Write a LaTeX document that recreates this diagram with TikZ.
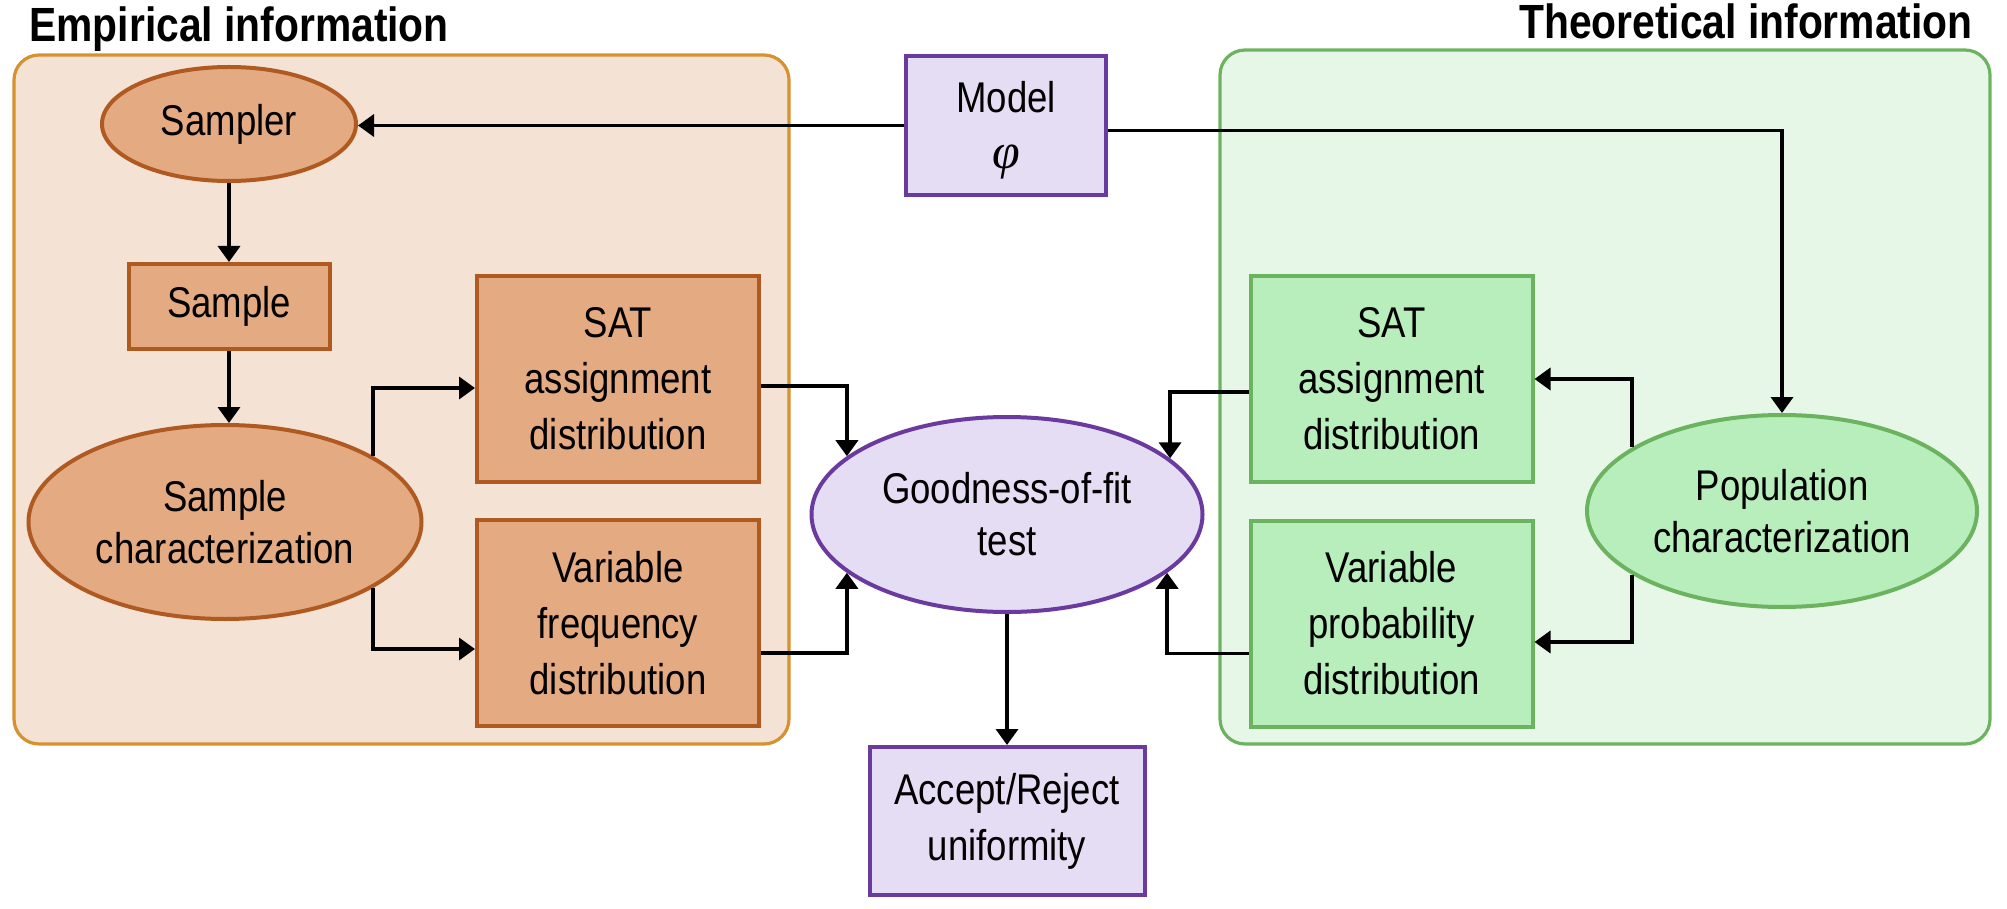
\documentclass[tikz,border=0pt]{standalone}
\usepackage{fontspec}
\setmainfont{Liberation Sans}[FakeStretch=0.85]
\newfontfamily\phifont{Liberation Serif}
\usetikzlibrary{arrows.meta,shapes.geometric}
\definecolor{empF}{HTML}{F4E2D4}
\definecolor{empB}{HTML}{D6922F}
\definecolor{enF}{HTML}{E4AA82}
\definecolor{enB}{HTML}{B05A22}
\definecolor{theF}{HTML}{E6F7E8}
\definecolor{theB}{HTML}{6BB35E}
\definecolor{gnF}{HTML}{B8EEBB}
\definecolor{pnF}{HTML}{E5DDF3}
\definecolor{pnB}{HTML}{6A3A9F}
\begin{document}
\begin{tikzpicture}[x=0.5pt,y=-0.5pt,
  base/.style={align=center, inner sep=0pt, line width=2pt,
    font=\fontsize{21.5pt}{28pt}\selectfont},
  rbox/.style={base, rectangle},
  rell/.style={base, ellipse, font=\fontsize{21.5pt}{26pt}\selectfont},
  emp/.style={draw=enB, fill=enF},
  theo/.style={draw=theB, fill=gnF},
  purp/.style={draw=pnB, fill=pnF},
  distbox/.style={rbox, minimum width=141pt, minimum height=103pt},
  container/.style={rounded corners=12.5pt, line width=1.6pt},
  title/.style={font=\fontsize{24pt}{28pt}\selectfont\bfseries, inner sep=0pt},
  arr/.style={line width=1.8pt, -{Triangle[length=8pt,width=11pt]}}
]
\useasboundingbox (0,0) rectangle (2007,909);
% containers
\path[container, draw=empB, fill=empF] (14,55) rectangle (789,744);
\path[container, draw=theB, fill=theF] (1220,50) rectangle (1990,744);
\node[title, anchor=base west] (tEmp) at (29,42) {Empirical information};
\node[title, anchor=base east] (tTheo) at (1973,39) {Theoretical information};
% nodes
\node[rell, emp, minimum width=127pt, minimum height=57pt] (sampler) at (229,124) {Sampler};
\node[rbox, emp, minimum width=100.5pt, minimum height=42.5pt] (sample) at (229,306.5) {Sample};
\node[rell, emp, minimum width=196.5pt, minimum height=97pt] (schar) at (225,522) {Sample\\characterization};
\node[distbox, emp] (satL) at (618,379) {SAT\\assignment\\distribution};
\node[distbox, emp] (varL) at (618,623) {Variable\\frequency\\distribution};
\node[rectangle, inner sep=0pt, line width=2pt, purp, minimum width=100pt, minimum height=69.5pt,
      font=\fontsize{21.5pt}{28pt}\selectfont] (model) at (1006,125.5)
  {\raisebox{-2pt}[\height][\depth]{\begin{tabular}{@{}c@{}}Model\\{\phifont\itshape\fontsize{25pt}{28pt}\selectfont φ}\end{tabular}}};
\node[rell, purp, minimum width=195.5pt, minimum height=97.5pt] (good) at (1007,514.5) {Goodness-of-fit\\test};
\node[rbox, purp, minimum width=137.5pt, minimum height=74pt] (accept) at (1007,821) {Accept/Reject\\uniformity};
\node[distbox, theo] (satR) at (1391.5,379) {SAT\\assignment\\distribution};
\node[distbox, theo] (varR) at (1391.5,623.5) {Variable\\probability\\distribution};
\node[rell, theo, minimum width=195pt, minimum height=96pt] (pop) at (1782,511) {Population\\characterization};
% connectors
\draw[arr] (model.west) -- (model.west -| sampler.east);
\draw[arr] ([yshift=-2.5pt]model.east) -| (pop.north);
\draw[arr] (sampler.south) -- (sample.north);
\draw[arr] (sample.south) -- (sample.south |- schar.north);
\draw[arr] (schar.24) |- ([yshift=-4.5pt]satL.west);
\draw[arr] (schar.-24) |- ([yshift=-13pt]varL.west);
\draw[arr] ([yshift=-3.5pt]satL.east) -| (good.160);
\draw[arr] ([yshift=-15pt]varL.east) -| (good.200);
\draw[arr] ([yshift=-6.5pt]satR.west) -| (good.19);
\draw[arr] ([yshift=-15pt]varR.west) -| (good.-20);
\draw[arr] (good.south) -- (good.south |- accept.north);
\draw[arr] (pop.157) |- (satR.east);
\draw[arr] (pop.203) |- ([yshift=-9.25pt]varR.east);
\end{tikzpicture}
\end{document}
